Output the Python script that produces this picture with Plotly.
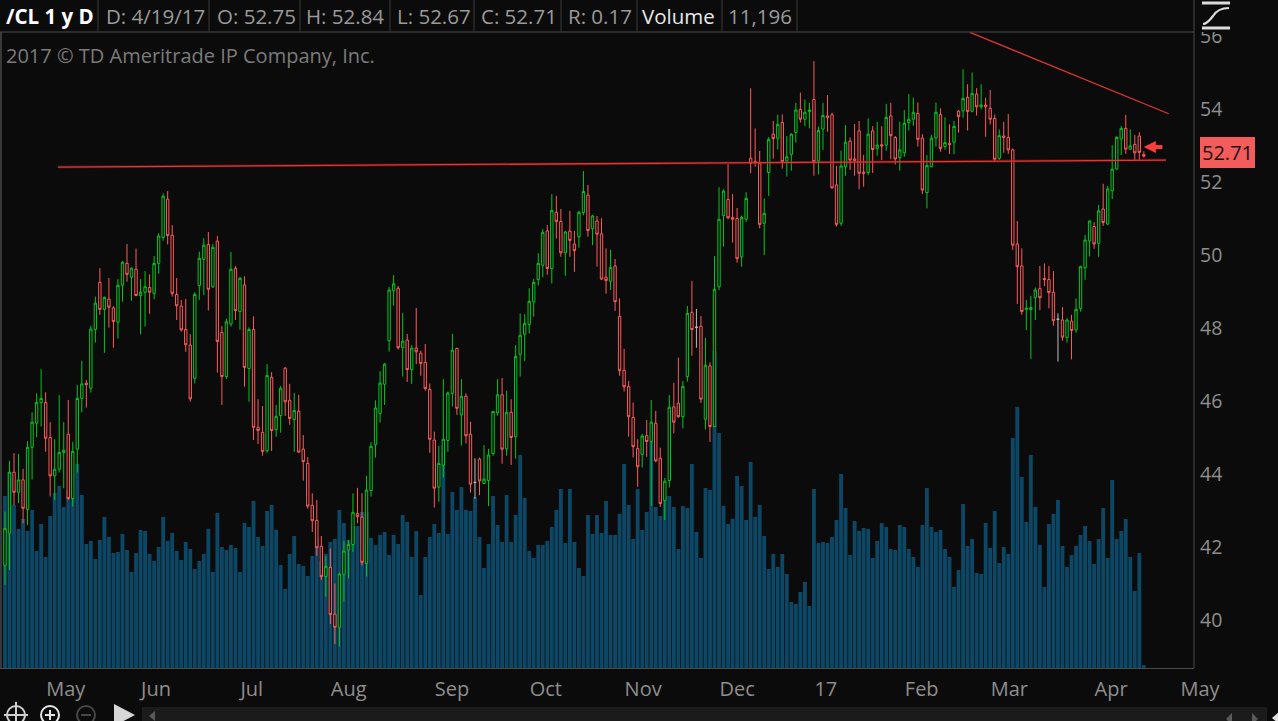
import pandas as pd
import plotly.graph_objects as go

# /CL daily, 4/19/16 - 4/19/17
OPEN = [41.50, 42.38, 44.05, 43.50, 43.84, 43.03, 44.73, 45.39, 45.96, 45.96,
        45.00, 43.95, 44.13, 44.59, 45.09, 43.33, 44.68, 46.07, 46.49, 46.35,
        47.96, 49.25, 48.51, 48.79, 48.55, 48.16, 49.17, 49.77, 49.39, 49.61,
        48.89, 48.98, 49.11, 48.95, 49.77, 50.48, 51.53, 50.54, 48.92, 48.60,
        47.96, 47.53, 46.62, 49.16, 49.88, 50.29, 49.13, 50.38, 47.88, 46.67,
        48.11, 49.63, 48.45, 49.18, 46.89, 47.96, 45.28, 45.14, 44.64, 46.65,
        45.22, 45.60, 46.90, 46.02, 45.49, 45.72, 44.68, 44.29, 43.14, 42.73,
        42.02, 41.19, 41.44, 40.16, 39.80, 41.25, 41.92, 42.07, 42.92, 42.82,
        41.55, 43.55, 44.80, 45.66, 46.46, 47.65, 49.02, 49.09, 47.46, 47.67,
        46.86, 47.45, 47.31, 47.06, 46.32, 44.93, 43.64, 44.24, 44.92, 46.21,
        47.44, 45.62, 46.13, 45.09, 43.77, 44.41, 43.74, 43.82, 44.56, 45.68,
        46.17, 44.69, 45.69, 45.02, 47.28, 47.83, 48.10, 48.72, 49.33, 49.72,
        50.66, 49.63, 51.17, 50.92, 50.06, 50.65, 50.30, 50.50, 51.16, 51.64,
        50.72, 50.93, 50.58, 49.39, 49.28, 49.70, 48.32, 46.84, 46.40, 45.55,
        44.70, 44.54, 45.05, 44.89, 45.39, 44.43, 43.27, 43.82, 45.84, 45.94,
        45.57, 46.67, 48.43, 48.02, 48.05, 45.50, 46.96, 45.30, 49.13, 51.08,
        51.52, 51.03, 51.00, 49.95, 50.98, 52.65, 52.57, 52.51, 50.87, 52.26,
        53.31, 53.20, 53.63, 52.58, 52.76, 53.36, 53.99, 53.72, 53.93, 54.26,
        52.58, 53.45, 53.81, 53.84, 51.92, 50.87, 52.42, 53.12, 52.63, 53.40,
        52.27, 52.26, 53.40, 52.92, 53.02, 53.01, 53.81, 53.22, 52.67, 52.80,
        53.63, 53.72, 53.88, 53.20, 51.71, 52.42, 53.21, 53.85, 52.97, 53.06,
        53.09, 53.94, 53.95, 54.32, 53.94, 54.41, 54.06, 54.11, 54.02, 53.74,
        52.65, 53.26, 53.22, 52.88, 50.30, 49.70, 48.51, 48.51, 48.83, 49.08,
        49.36, 49.33, 48.98, 48.24, 48.22, 47.74, 48.19, 47.95, 48.53, 49.65,
        50.39, 50.78, 50.32, 51.26, 50.85, 51.76, 52.36, 53.18, 53.47, 52.90,
        53.03, 53.26, 52.75]
HIGH = [42.97, 44.36, 44.57, 44.55, 44.14, 44.90, 45.69, 46.21, 46.87, 46.24,
        45.42, 44.95, 46.16, 45.42, 46.03, 44.88, 46.44, 47.10, 46.58, 48.06,
        48.86, 49.64, 48.86, 49.37, 48.60, 49.34, 49.84, 50.30, 49.66, 50.18,
        49.34, 49.56, 49.47, 49.97, 50.60, 51.69, 51.75, 50.82, 49.37, 48.77,
        48.80, 47.83, 48.98, 50.09, 50.46, 50.63, 50.30, 50.52, 48.05, 48.26,
        50.08, 49.70, 49.40, 49.42, 48.02, 48.32, 46.05, 45.86, 47.01, 46.79,
        45.89, 46.41, 46.93, 46.47, 46.22, 46.17, 45.07, 44.46, 43.47, 43.29,
        42.30, 41.75, 41.96, 41.00, 41.30, 42.17, 42.19, 43.47, 43.62, 43.47,
        43.95, 44.87, 46.02, 46.82, 47.04, 49.12, 49.45, 49.15, 48.41, 47.84,
        47.53, 48.55, 47.38, 47.56, 46.48, 45.16, 44.77, 46.60, 46.26, 47.84,
        47.46, 46.60, 46.21, 45.43, 44.43, 44.45, 44.79, 44.69, 45.73, 46.60,
        46.63, 46.28, 46.05, 47.53, 48.40, 48.38, 49.09, 49.34, 50.05, 50.71,
        50.82, 51.67, 51.62, 51.26, 50.66, 51.21, 50.66, 51.21, 52.30, 51.92,
        51.10, 51.07, 51.01, 50.18, 50.14, 49.89, 48.81, 47.43, 46.55, 45.96,
        44.95, 45.10, 45.48, 46.03, 45.73, 44.72, 43.89, 46.16, 46.50, 47.19,
        46.55, 48.60, 49.29, 48.52, 48.33, 47.73, 47.06, 49.97, 51.86, 51.80,
        52.49, 51.67, 51.29, 51.08, 51.72, 54.57, 53.47, 52.85, 51.55, 53.23,
        53.67, 53.84, 53.85, 53.26, 53.33, 54.17, 54.45, 54.26, 54.17, 55.31,
        53.52, 54.17, 54.38, 53.90, 52.44, 52.86, 53.56, 53.22, 53.59, 53.67,
        52.74, 53.74, 53.53, 53.65, 53.53, 54.14, 54.17, 53.26, 53.65, 53.97,
        54.41, 54.31, 54.18, 53.31, 52.74, 53.29, 54.18, 54.02, 53.77, 53.58,
        53.67, 53.97, 55.09, 54.68, 55.00, 54.57, 54.68, 54.31, 54.52, 53.85,
        53.44, 53.65, 53.86, 52.92, 50.93, 50.18, 48.77, 48.88, 49.11, 49.70,
        49.77, 49.70, 49.56, 48.40, 48.57, 48.27, 48.36, 48.81, 49.71, 50.55,
        50.95, 50.90, 51.37, 51.95, 51.89, 53.01, 53.26, 53.53, 53.84, 53.44,
        53.29, 53.36, 52.84]
LOW = [40.96, 41.37, 43.15, 43.20, 42.65, 42.60, 43.85, 45.01, 45.30, 44.61,
       43.38, 43.29, 44.04, 43.61, 43.29, 43.11, 44.04, 45.69, 45.82, 46.23,
       47.60, 48.36, 47.32, 48.01, 47.46, 47.71, 48.72, 49.27, 48.75, 48.87,
       47.83, 48.04, 48.39, 48.79, 49.49, 50.39, 50.29, 48.86, 48.22, 47.90,
       47.35, 45.98, 46.48, 48.77, 48.90, 48.48, 49.10, 46.78, 45.89, 46.60,
       48.04, 48.22, 47.95, 46.39, 45.98, 44.93, 44.82, 44.50, 44.58, 44.63,
       45.02, 45.13, 45.59, 45.35, 44.61, 44.58, 43.82, 43.05, 42.41, 41.76,
       41.10, 40.64, 39.89, 39.34, 39.27, 40.50, 41.14, 41.87, 42.65, 41.49,
       41.19, 43.38, 44.45, 45.41, 45.89, 47.35, 48.61, 47.41, 46.67, 46.52,
       46.47, 47.01, 46.69, 46.28, 44.58, 43.08, 43.24, 43.91, 44.61, 45.85,
       45.62, 44.78, 44.84, 43.49, 43.32, 43.42, 43.73, 43.12, 44.50, 45.60,
       44.28, 44.50, 44.25, 44.42, 46.67, 47.10, 47.85, 48.31, 49.16, 49.39,
       49.46, 49.22, 50.45, 49.95, 49.43, 49.95, 49.54, 50.20, 51.09, 50.50,
       50.27, 49.68, 49.32, 48.94, 49.04, 48.47, 46.69, 46.26, 45.02, 44.45,
       43.65, 44.18, 44.47, 43.13, 44.32, 43.10, 42.74, 43.63, 45.11, 45.54,
       45.25, 46.53, 47.24, 47.46, 45.95, 45.22, 44.88, 45.28, 49.04, 50.23,
       50.98, 50.34, 49.79, 49.68, 50.91, 52.24, 52.42, 50.73, 50.00, 51.62,
       52.64, 52.89, 52.37, 52.15, 52.31, 53.08, 53.63, 53.53, 53.47, 52.17,
       52.21, 52.88, 53.38, 51.81, 50.78, 50.80, 52.17, 52.33, 52.17, 51.80,
       51.87, 52.19, 52.25, 52.72, 52.60, 52.86, 52.62, 52.48, 52.31, 52.69,
       53.41, 53.54, 52.97, 51.67, 51.28, 52.40, 52.97, 52.83, 52.89, 52.77,
       52.76, 53.35, 53.76, 53.41, 53.91, 53.82, 53.99, 53.24, 53.58, 52.56,
       52.60, 52.80, 52.77, 50.14, 48.66, 48.36, 47.94, 47.15, 48.22, 48.49,
       49.15, 48.54, 48.06, 47.08, 47.65, 47.60, 47.14, 47.87, 48.45, 49.32,
       49.96, 50.17, 49.95, 50.80, 50.82, 51.53, 52.33, 52.74, 52.77, 52.88,
       52.60, 52.60, 52.67]
CLOSE = [42.51, 44.05, 43.50, 43.84, 43.06, 44.73, 45.42, 45.96, 46.07, 44.98,
         43.95, 44.13, 44.59, 44.65, 43.33, 44.62, 46.07, 46.47, 46.45, 47.97,
         48.68, 48.51, 48.84, 48.57, 48.18, 49.17, 49.80, 49.47, 49.64, 48.89,
         48.98, 49.13, 48.98, 49.77, 50.52, 51.61, 50.53, 48.95, 48.61, 47.95,
         47.54, 46.06, 48.92, 49.91, 50.27, 49.06, 50.21, 47.63, 46.67, 48.17,
         49.61, 48.48, 49.36, 46.92, 47.96, 45.28, 45.19, 44.62, 46.70, 45.19,
         45.58, 46.35, 45.98, 45.52, 45.74, 44.60, 44.34, 43.12, 42.72, 41.98,
         41.19, 41.47, 40.15, 39.80, 41.26, 41.89, 42.07, 42.95, 42.83, 41.58,
         43.56, 44.76, 45.81, 46.49, 47.01, 49.04, 49.21, 47.46, 47.64, 46.86,
         47.45, 47.35, 47.03, 46.34, 44.95, 43.61, 44.29, 44.95, 46.22, 47.39,
         45.80, 46.13, 45.05, 43.72, 43.77, 43.81, 43.86, 44.52, 45.71, 46.17,
         44.68, 45.69, 45.00, 47.22, 47.80, 48.13, 48.73, 49.25, 49.77, 50.62,
         49.63, 51.22, 50.92, 50.06, 50.63, 50.40, 50.12, 51.17, 51.74, 50.67,
         51.07, 50.57, 49.34, 49.30, 49.66, 48.72, 46.83, 46.39, 45.57, 44.75,
         44.20, 45.04, 44.89, 45.42, 44.36, 43.19, 43.80, 45.83, 45.42, 45.57,
         46.40, 48.40, 47.96, 48.02, 46.05, 46.98, 45.30, 49.06, 50.98, 51.75,
         51.02, 50.98, 49.90, 51.03, 51.55, 52.51, 52.53, 50.84, 51.14, 53.17,
         53.19, 53.58, 52.56, 52.69, 53.31, 53.97, 53.72, 53.91, 53.97, 52.56,
         53.41, 53.82, 53.76, 51.84, 50.84, 52.44, 53.09, 52.60, 52.59, 52.24,
         52.24, 53.31, 52.89, 53.01, 52.99, 53.77, 53.27, 52.63, 52.88, 53.61,
         53.72, 53.91, 53.17, 51.78, 52.45, 53.20, 53.91, 52.92, 53.08, 53.03,
         53.52, 53.79, 54.29, 53.93, 54.43, 54.06, 54.11, 54.06, 53.72, 52.62,
         53.27, 53.22, 52.88, 50.27, 49.68, 48.45, 48.54, 48.56, 49.04, 48.83,
         49.33, 48.97, 48.20, 48.24, 47.75, 48.22, 47.93, 48.51, 49.68, 50.41,
         50.93, 50.30, 51.21, 50.89, 51.81, 52.35, 53.22, 53.47, 52.90, 52.99,
         52.80, 52.81, 52.71]
# volume in thousands of contracts (last session partial)
VOLUME_K = [688, 784, 652, 556, 596, 548, 632, 468, 576, 444,
            608, 700, 728, 644, 708, 680, 816, 692, 496, 508,
            436, 512, 604, 524, 460, 464, 536, 472, 384, 460,
            552, 548, 456, 428, 484, 604, 508, 540, 468, 432,
            504, 476, 396, 428, 456, 556, 384, 620, 484, 472,
            492, 480, 384, 580, 564, 668, 524, 488, 628, 652,
            552, 412, 316, 456, 528, 416, 408, 368, 448, 520,
            428, 456, 504, 516, 632, 580, 512, 568, 568, 624,
            624, 520, 492, 532, 544, 452, 532, 496, 612, 584,
            444, 548, 292, 444, 524, 576, 540, 892, 536, 704,
            632, 724, 632, 628, 684, 524, 400, 496, 688, 572,
            504, 692, 504, 612, 852, 680, 468, 440, 492, 492,
            508, 564, 632, 716, 500, 716, 504, 400, 368, 612,
            536, 612, 540, 668, 532, 532, 616, 816, 652, 516,
            716, 552, 624, 904, 644, 608, 688, 688, 644, 476,
            648, 640, 816, 544, 440, 720, 712, 1268, 940, 648,
            576, 596, 768, 728, 592, 824, 604, 652, 528, 396,
            456, 404, 456, 376, 264, 256, 304, 344, 248, 716,
            500, 504, 500, 524, 592, 776, 640, 452, 588, 548,
            560, 556, 440, 508, 580, 564, 476, 472, 572, 564,
            476, 444, 404, 572, 720, 564, 544, 552, 476, 444,
            324, 392, 656, 488, 516, 380, 376, 580, 480, 628,
            420, 484, 456, 920, 1044, 764, 584, 852, 644, 492,
            324, 576, 616, 672, 488, 404, 452, 488, 532, 568,
            508, 416, 516, 640, 440, 752, 516, 548, 596, 444,
            308, 460, 11.196]

# trading calendar (CME holidays removed)
HOLIDAYS = ['2016-05-30', '2016-07-04', '2016-09-05', '2016-11-24', '2016-12-26',
            '2017-01-02', '2017-01-16', '2017-02-20', '2017-04-14']
TICK_LABELS = ['May', 'Jun', 'Jul', 'Aug', 'Sep', 'Oct', 'Nov', 'Dec', '17',
               'Feb', 'Mar', 'Apr', 'May']
PRICE_TICKS = [40, 42, 44, 46, 48, 50, 52, 54, 56]

# user drawn lines (bar index, price)
SUPPORT_X = [11.7, 256.9]
SUPPORT_Y = [52.41, 52.60]
TREND_X = [213.5, 257.5]
TREND_Y = [56.10, 53.87]
ARROW_PRICE = 52.96

BG = '#0b0b0b'
GREEN = '#00c81e'
RED = '#ff5a5a'
GRAY = '#bdbdbd'
VOL_COLOR = '#0c4866'
LINE = '#4a4a4a'
TXT = '#9a9a9a'
FONT = 'Open Sans'

W, H = 1278, 721
PLOT_R, PLOT_T, PLOT_B = 1194, 32, 668

days = pd.bdate_range('2016-04-19', '2017-05-05', freq='C', holidays=HOLIDAYS)
n = len(CLOSE)
xs = list(range(n))
tick_idx = [i for i in range(1, len(days)) if days[i].month != days[i - 1].month]
volume = [v * 1000 for v in VOLUME_K]


def px(x):
    return x / PLOT_R


def py(y):
    return (PLOT_B - y) / (PLOT_B - PLOT_T)


def pt(x, y):
    return f'{px(x)},{py(y)}'


fig = go.Figure()

fig.add_trace(go.Bar(
    x=xs, y=volume, yaxis='y',
    marker=dict(color=VOL_COLOR, line_width=0),
    hoverinfo='skip', showlegend=False
))

main = [i for i in xs if OPEN[i] != CLOSE[i]]
flat = [i for i in xs if OPEN[i] == CLOSE[i]]

fig.add_trace(go.Candlestick(
    x=main,
    open=[OPEN[i] for i in main], high=[HIGH[i] for i in main],
    low=[LOW[i] for i in main], close=[CLOSE[i] for i in main],
    yaxis='y2', whiskerwidth=0,
    increasing=dict(line=dict(color=GREEN, width=1), fillcolor=BG),
    decreasing=dict(line=dict(color=RED, width=1), fillcolor=BG),
    showlegend=False
))
fig.add_trace(go.Candlestick(
    x=flat,
    open=[OPEN[i] for i in flat], high=[HIGH[i] for i in flat],
    low=[LOW[i] for i in flat], close=[CLOSE[i] for i in flat],
    yaxis='y2', whiskerwidth=0,
    increasing=dict(line=dict(color=GRAY, width=1), fillcolor=BG),
    decreasing=dict(line=dict(color=GRAY, width=1), fillcolor=BG),
    showlegend=False
))

shapes = [
    dict(type='line', xref='x', yref='y2', x0=SUPPORT_X[0], x1=SUPPORT_X[1],
         y0=SUPPORT_Y[0], y1=SUPPORT_Y[1], line=dict(color='rgba(140,30,30,0.4)', width=3),
         layer='above'),
    dict(type='line', xref='x', yref='y2', x0=SUPPORT_X[0], x1=SUPPORT_X[1],
         y0=SUPPORT_Y[0], y1=SUPPORT_Y[1], line=dict(color='#e53535', width=1.3), layer='above'),
    dict(type='line', xref='x', yref='y2', x0=TREND_X[0], x1=TREND_X[1],
         y0=TREND_Y[0], y1=TREND_Y[1], line=dict(color='#e03434', width=1.3), layer='above'),
    # header band
    dict(type='rect', xref='paper', yref='paper', x0=0, x1=px(W), y0=py(PLOT_T), y1=py(0),
         fillcolor=BG, line_width=0, layer='above'),
    dict(type='line', xref='paper', yref='paper', x0=0, x1=1, y0=py(PLOT_T), y1=py(PLOT_T),
         line=dict(color=LINE, width=1), layer='above'),
    dict(type='line', xref='paper', yref='paper', x0=1, x1=1, y0=0, y1=py(0),
         line=dict(color=LINE, width=1), layer='above'),
    dict(type='line', xref='paper', yref='paper', x0=px(1), x1=px(1), y0=0, y1=py(PLOT_T),
         line=dict(color=LINE, width=1.5), layer='above'),
]
for sx in [98, 209, 300, 390, 474, 561, 637, 722, 797]:
    shapes.append(dict(type='line', xref='paper', yref='paper', x0=px(sx), x1=px(sx),
                       y0=py(PLOT_T), y1=py(0), line=dict(color='#3a3a3a', width=1), layer='above'))

# study icon top right
shapes += [
    dict(type='line', xref='paper', yref='paper', x0=px(1202), x1=px(1230), y0=py(3), y1=py(3),
         line=dict(color='#dcdcdc', width=3), layer='above'),
    dict(type='line', xref='paper', yref='paper', x0=px(1202), x1=px(1230), y0=py(28), y1=py(28),
         line=dict(color='#dcdcdc', width=3), layer='above'),
    dict(type='path', xref='paper', yref='paper',
         path=f'M {pt(1203, 24)} C {pt(1207, 24)} {pt(1210, 20)} {pt(1213, 16)} '
              f'C {pt(1216, 11)} {pt(1220, 8)} {pt(1229, 8)}',
         line=dict(color='#dcdcdc', width=2.2), layer='above'),
]

# bottom toolbar
shapes += [
    dict(type='circle', xref='paper', yref='paper', x0=px(7), x1=px(25), y0=py(724), y1=py(706),
         line=dict(color='#cfcfcf', width=2)),
    dict(type='line', xref='paper', yref='paper', x0=px(4), x1=px(28), y0=py(715), y1=py(715),
         line=dict(color='#cfcfcf', width=2)),
    dict(type='line', xref='paper', yref='paper', x0=px(16), x1=px(16), y0=py(728), y1=py(702),
         line=dict(color='#cfcfcf', width=2)),
    dict(type='circle', xref='paper', yref='paper', x0=px(41), x1=px(59), y0=py(724), y1=py(706),
         line=dict(color='#e6e6e6', width=2)),
    dict(type='line', xref='paper', yref='paper', x0=px(45), x1=px(55), y0=py(715), y1=py(715),
         line=dict(color='#e6e6e6', width=2)),
    dict(type='line', xref='paper', yref='paper', x0=px(50), x1=px(50), y0=py(720), y1=py(710),
         line=dict(color='#e6e6e6', width=2)),
    dict(type='circle', xref='paper', yref='paper', x0=px(77), x1=px(95), y0=py(724), y1=py(706),
         line=dict(color='#474747', width=2)),
    dict(type='line', xref='paper', yref='paper', x0=px(81), x1=px(91), y0=py(715), y1=py(715),
         line=dict(color='#474747', width=2)),
    dict(type='path', xref='paper', yref='paper',
         path=f'M {pt(114, 704)} L {pt(114, 726)} L {pt(135, 715)} Z',
         fillcolor='#d6d6d6', line_width=0),
    dict(type='rect', xref='paper', yref='paper', x0=px(142), x1=px(1267), y0=py(H + 2), y1=py(707),
         fillcolor='#1b1b1b', line_width=0),
    dict(type='path', xref='paper', yref='paper',
         path=f'M {pt(155, 711)} L {pt(149, 716)} L {pt(155, 721)} Z',
         fillcolor='#5a5a5a', line_width=0),
    dict(type='path', xref='paper', yref='paper',
         path=f'M {pt(1232, 713)} L {pt(1226, 719)} L {pt(1232, 725)} Z',
         fillcolor='#5a5a5a', line_width=0),
    dict(type='path', xref='paper', yref='paper',
         path=f'M {pt(1252, 713)} L {pt(1258, 719)} L {pt(1252, 725)} Z',
         fillcolor='#5a5a5a', line_width=0),
    dict(type='path', xref='paper', yref='paper',
         path=f'M {pt(1272, 718)} L {pt(1279, 712)} L {pt(1279, 724)} Z',
         fillcolor='#e0e0e0', line_width=0),
]

header = [
    ('<b>/CL 1 y D</b>', 4, '#ffffff'),
    (f'D: {days[n - 1].month}/{days[n - 1].day}/{days[n - 1]:%y}', 104, TXT),
    (f'O: {OPEN[-1]:.2f}', 215, TXT),
    (f'H: {HIGH[-1]:.2f}', 304, TXT),
    (f'L: {LOW[-1]:.2f}', 395, TXT),
    (f'C: {CLOSE[-1]:.2f}', 479, TXT),
    (f'R: {HIGH[-1] - LOW[-1]:.2f}', 566, TXT),
    ('Volume', 640, '#e8e8e8'),
    (f'{volume[-1]:,.0f}', 726, TXT),
]
annotations = []
for text, hx, col in header:
    annotations.append(dict(text=text, xref='paper', yref='paper', x=px(hx), y=py(16),
                            xanchor='left', yanchor='middle', showarrow=False,
                            font=dict(family=FONT, size=20.5, color=col)))

annotations += [
    dict(text='2017 © TD Ameritrade IP Company, Inc.', xref='paper', yref='paper',
         x=px(4), y=py(56), xanchor='left', yanchor='middle', showarrow=False,
         font=dict(family=FONT, size=20, color='#7b7b7b')),
    dict(text=f'{CLOSE[-1]:.2f}', xref='paper', yref='y2', x=px(1227), y=CLOSE[-1],
         yshift=4, xanchor='center', yanchor='middle', showarrow=False,
         bgcolor='#f45b5b', bordercolor='#f45b5b', borderpad=1,
         font=dict(family=FONT, size=20, color='#151515')),
    dict(text='', xref='x', yref='y2', x=n - 1, y=ARROW_PRICE, ax=20, ay=0,
         showarrow=True, arrowhead=2, arrowsize=0.6, arrowwidth=4, arrowcolor='#ff3b3b'),
]

fig.update_layout(
    width=W, height=H,
    margin=dict(l=0, r=W - PLOT_R, t=PLOT_T, b=H - PLOT_B, pad=0),
    paper_bgcolor=BG, plot_bgcolor=BG,
    font=dict(family=FONT, color=TXT),
    showlegend=False, bargap=0.15, boxgap=0.25,
    xaxis=dict(range=[-1.1, 263.1], showgrid=False, zeroline=False,
               showline=True, linecolor=LINE, linewidth=1, ticks='',
               tickvals=tick_idx, ticktext=TICK_LABELS,
               ticklabelposition='outside right', ticklabelstandoff=3,
               tickfont=dict(family=FONT, size=20, color='#8e8e8e'),
               rangeslider=dict(visible=False), fixedrange=True),
    yaxis=dict(range=[0, 636 * 4000], visible=False, fixedrange=True),
    yaxis2=dict(range=[38.685, 56.11], overlaying='y', side='right',
                showgrid=False, zeroline=False, showline=False, ticks='',
                tickvals=PRICE_TICKS, ticklabelstandoff=5,
                tickfont=dict(family=FONT, size=19.5, color='#8e8e8e'),
                fixedrange=True),
    shapes=shapes,
    annotations=annotations,
)

fig.write_html('out.html', config={'displayModeBar': False},
               post_script="document.body.style.margin='0';")
